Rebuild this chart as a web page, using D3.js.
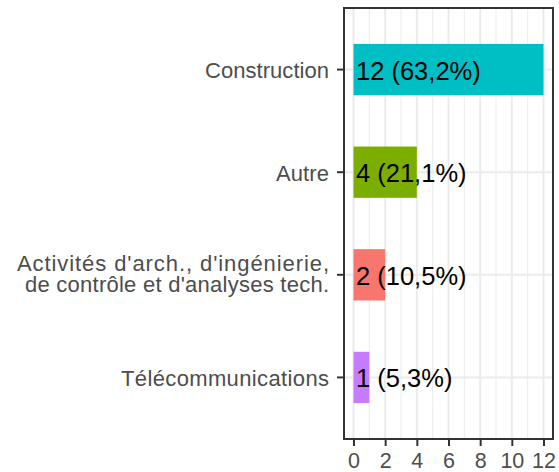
<!DOCTYPE html>
<html>
<head>
<meta charset="utf-8">
<script src="https://cdn.jsdelivr.net/npm/d3@7"></script>
<style>
  html, body { margin: 0; padding: 0; background: #ffffff; }
  svg { display: block; font-family: "Liberation Sans", Arial, sans-serif; }
</style>
</head>
<body>
<svg id="chart" width="559" height="472"></svg>
<script>
// ---- Data ----
const categories = [
  "Construction",
  "Autre",
  "Activités d'arch., d'ingénierie,\nde contrôle et d'analyses tech.",
  "Télécommunications"
];
const counts = [12, 4, 2, 1];
const labels = ["12 (63,2%)", "4 (21,1%)", "2 (10,5%)", "1 (5,3%)"];
const colors = ["#00BFC4", "#7CAE00", "#F8766D", "#C77CFF"];
const xTicks = [0, 2, 4, 6, 8, 10, 12];
const xMinorTicks = [1, 3, 5, 7, 9, 11];

// ---- Layout (text widths of the axis labels as rendered in the reference) ----
const labelLineWidths = [[124], [53], [312, 304], [208]];

const panel = { left: 344, right: 553, top: 8, bottom: 439 };
const svg = d3.select("#chart");

const x = d3.scaleLinear()
  .domain([-0.6, 12.6])
  .range([panel.left, panel.right]);

// discrete y scale: categories with 0.6 expansion on each side
const yPos = d3.scaleLinear()
  .domain([-0.6, categories.length - 1 + 0.6])
  .range([panel.top, panel.bottom]);
const bandStep = yPos(1) - yPos(0);
const barHalf = bandStep * 0.25;

const g = svg.append("g");

g.append("rect")
  .attr("x", panel.left).attr("y", panel.top)
  .attr("width", panel.right - panel.left)
  .attr("height", panel.bottom - panel.top)
  .attr("fill", "#ffffff");

// minor gridlines
g.selectAll("line.minor").data(xMinorTicks).enter().append("line")
  .attr("class", "minor")
  .attr("x1", d => x(d)).attr("x2", d => x(d))
  .attr("y1", panel.top).attr("y2", panel.bottom)
  .attr("stroke", "#EBEBEB").attr("stroke-width", 1);

// major gridlines vertical
g.selectAll("line.majorx").data(xTicks).enter().append("line")
  .attr("class", "majorx")
  .attr("x1", d => x(d)).attr("x2", d => x(d))
  .attr("y1", panel.top).attr("y2", panel.bottom)
  .attr("stroke", "#EBEBEB").attr("stroke-width", 2);

// major gridlines horizontal
g.selectAll("line.majory").data(categories).enter().append("line")
  .attr("class", "majory")
  .attr("x1", panel.left).attr("x2", panel.right)
  .attr("y1", (d, i) => yPos(i)).attr("y2", (d, i) => yPos(i))
  .attr("stroke", "#EBEBEB").attr("stroke-width", 2);

// bars
g.selectAll("rect.bar").data(counts).enter().append("rect")
  .attr("class", "bar")
  .attr("x", x(0))
  .attr("y", (d, i) => yPos(i) - barHalf)
  .attr("width", d => x(d) - x(0))
  .attr("height", barHalf * 2)
  .attr("fill", (d, i) => colors[i]);

// bar labels
g.selectAll("text.lbl").data(labels).enter().append("text")
  .attr("class", "lbl")
  .attr("x", x(0) + 2.5)
  .attr("y", (d, i) => yPos(i))
  .attr("dy", "0.39em")
  .attr("font-size", 25.5)
  .attr("fill", "#000000")
  .text(d => d);

// panel border
g.append("rect")
  .attr("x", panel.left).attr("y", panel.top)
  .attr("width", panel.right - panel.left)
  .attr("height", panel.bottom - panel.top)
  .attr("fill", "none")
  .attr("stroke", "#333333").attr("stroke-width", 2);

// x axis
const xAxis = d3.axisBottom(x).tickValues(xTicks).tickSize(7).tickPadding(6).tickFormat(d3.format("d"));
const xg = svg.append("g").attr("transform", `translate(0,${panel.bottom})`).call(xAxis);
xg.select(".domain").remove();
xg.selectAll(".tick line").attr("stroke", "#333333").attr("stroke-width", 2);
xg.selectAll(".tick text").attr("fill", "#4D4D4D").attr("font-size", 21.5)
  .attr("font-family", "Liberation Sans, Arial, sans-serif").attr("dy", "0.74em");

// y axis ticks
const yg = svg.append("g");
yg.selectAll("line.ytick").data(categories).enter().append("line")
  .attr("x1", panel.left - 7).attr("x2", panel.left)
  .attr("y1", (d, i) => yPos(i)).attr("y2", (d, i) => yPos(i))
  .attr("stroke", "#333333").attr("stroke-width", 2);

// y axis labels (multi-line, right-justified)
const lineH = 21;
categories.forEach((c, i) => {
  const lines = c.split("\n");
  const n = lines.length;
  lines.forEach((ln, j) => {
    yg.append("text")
      .attr("text-anchor", "end")
      .attr("font-size", 22)
      .attr("fill", "#4D4D4D")
      .attr("x", panel.left - 15)
      .attr("y", yPos(i) + 8.5 + (j - (n - 1) / 2) * lineH - (n > 1 ? 2 : 0))
      .attr("textLength", labelLineWidths[i][j])
      .attr("lengthAdjust", "spacing")
      .text(ln);
  });
});
</script>
</body>
</html>
